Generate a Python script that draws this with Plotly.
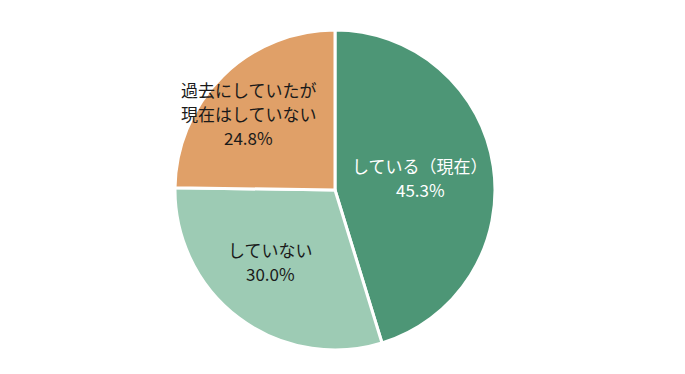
import math
import plotly.graph_objects as go

labels = ["している（現在）", "していない", "過去にしていたが<br>現在はしていない"]
values = [45.3, 30.0, 24.8]
colors = ["#4d9676", "#9dcbb4", "#e0a068"]
text_colors = ["#ffffff", "#1a1a1a", "#1a1a1a"]

# label placement style (radius fraction, angular tweak in degrees)
label_r = [0.54, 0.60, 0.72]
label_dang = [0, 5, -4]
line_gap = 24  # px between text lines

W, H = 677, 366          # page has an 8px body margin
cx, cy, R = 327, 182, 160  # pie centre / radius in figure pixels

dom_x = [(cx - R) / W, (cx + R) / W]
dom_y = [1 - (cy + R) / H, 1 - (cy - R) / H]

fig = go.Figure(go.Pie(
    labels=labels,
    values=values,
    sort=False,
    direction="clockwise",
    rotation=0,
    marker=dict(colors=colors, line=dict(color="#ffffff", width=3)),
    textinfo="none",
    hoverinfo="label+value",
    showlegend=False,
    domain=dict(x=dom_x, y=dom_y),
))

total = sum(values)
cum = 0.0
annotations = []
for lab, v, col, rf, da in zip(labels, values, text_colors, label_r, label_dang):
    mid = (cum + v / 2) / total * 360 + da
    cum += v
    a = math.radians(mid)
    px = cx + rf * R * math.sin(a)
    py = cy - rf * R * math.cos(a)
    lines = lab.split("<br>") + [f"{v:.1f}%"]
    n = len(lines)
    for i, t in enumerate(lines):
        ly = py + (i - (n - 1) / 2) * line_gap
        annotations.append(dict(
            x=px / W, y=1 - ly / H, xref="paper", yref="paper",
            text=t, showarrow=False,
            font=dict(family="Noto Sans CJK JP", size=17, color=col),
            align="center", xanchor="center", yanchor="middle",
        ))

fig.update_layout(
    width=W, height=H,
    margin=dict(l=0, r=0, t=0, b=0),
    paper_bgcolor="#ffffff",
    plot_bgcolor="#ffffff",
    annotations=annotations,
)

fig.write_html("out.html")
